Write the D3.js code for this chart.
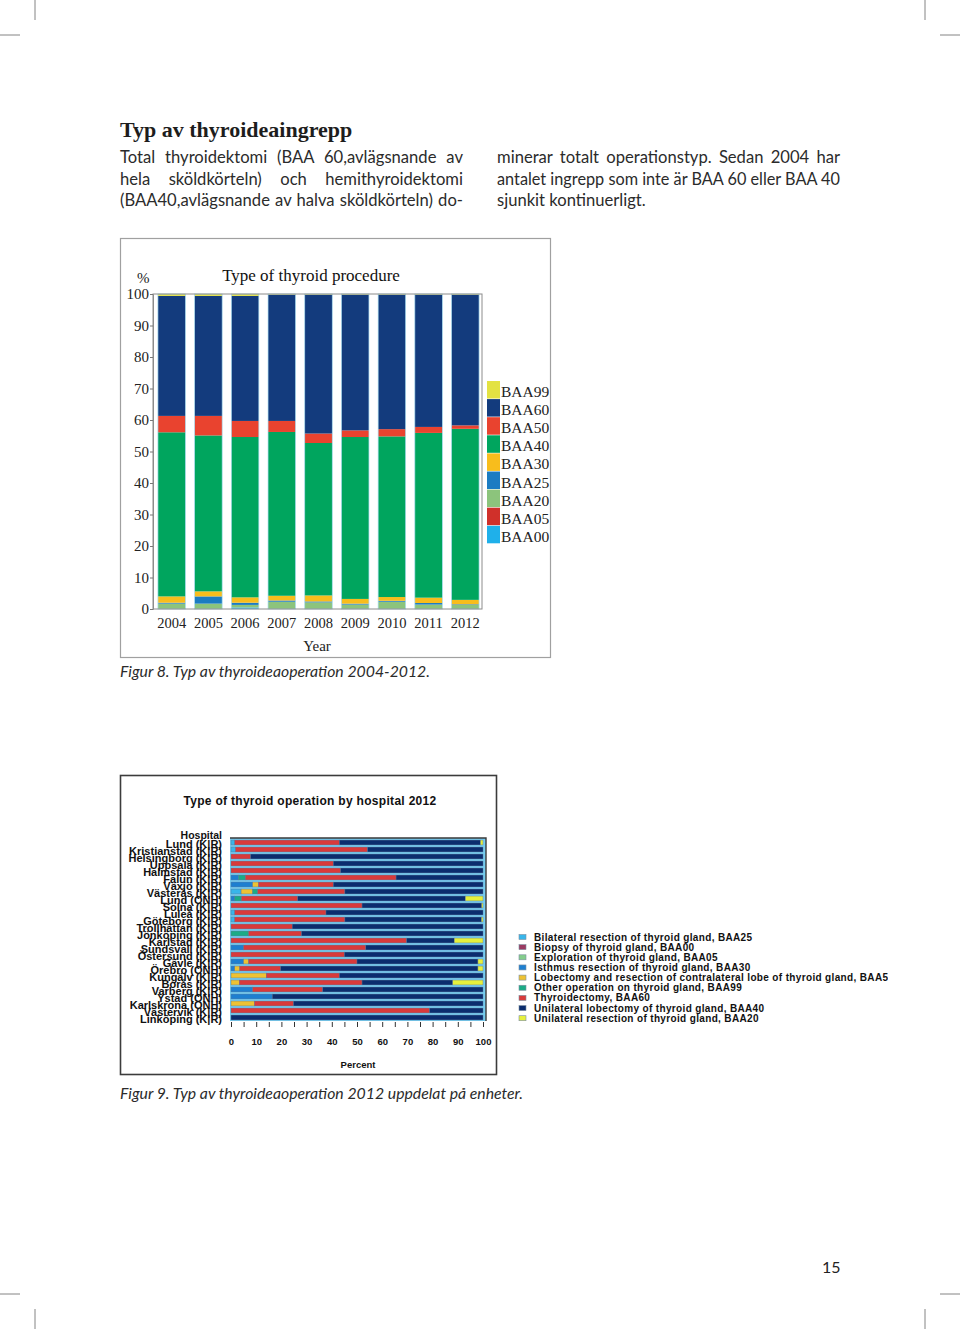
<!DOCTYPE html>
<html>
<head>
<meta charset="utf-8">
<script src="https://cdn.jsdelivr.net/npm/d3@7"></script>
<style>
body { margin: 0; background: #fff; }
svg { display: block; }
</style>
</head>
<body>
<svg id="page" width="960" height="1329"></svg>
<script>
// ---- figure 8 data (percent per year, bottom to top of the stack) ----
const years = ["2004", "2005", "2006", "2007", "2008", "2009", "2010", "2011", "2012"];
const procCodes = ["BAA00", "BAA05", "BAA20", "BAA25", "BAA30", "BAA40", "BAA50", "BAA60", "BAA99"];
const baa00 = [0, 0, 0.5, 0, 0, 0, 0, 0, 0];
const baa05 = [0, 0, 0, 0, 0, 0, 0, 0, 0];
const baa20 = [1.7, 1.7, 0.8, 2.3, 2.1, 1.4, 2.3, 1.4, 1.3];
const baa25 = [0.3, 2.3, 0.7, 0.4, 0.3, 0.3, 0.3, 0.5, 0.2];
const baa30 = [2.0, 1.6, 1.7, 1.5, 1.9, 1.5, 1.2, 1.7, 1.4];
const baa40 = [52.1, 49.5, 50.9, 52.0, 48.4, 51.4, 51.0, 52.3, 54.3];
const baa50 = [5.2, 6.2, 5.1, 3.5, 3.0, 2.1, 2.3, 1.9, 1.1];
const baa60 = [38.1, 38.1, 39.7, 40.1, 44.1, 43.1, 42.7, 42.0, 41.5];
const baa99 = [0.6, 0.6, 0.6, 0.2, 0.2, 0.2, 0.2, 0.2, 0.2];
const yTicks8 = [0, 10, 20, 30, 40, 50, 60, 70, 80, 90, 100];

// ---- figure 9 data (percent per hospital 2012) ----
const hospitals = ["Lund (K|R)", "Kristianstad (K|R)", "Helsingborg (K|R)", "Uppsala (K|R)", "Halmstad (K|R)",
  "Falun (K|R)", "Växjö (K|R)", "Västerås (K|R)", "Lund (ONH)", "Solna (K|R)", "Luleå (K|R)", "Göteborg (K|R)",
  "Trollhättan (K|R)", "Jönköping (K|R)", "Karlstad (K|R)", "Sundsvall (K|R)", "Östersund (K|R)", "Gävle (K|R)",
  "Örebro (ONH)", "Kungälv (K|R)", "Borås (K|R)", "Varberg (K|R)", "Ystad (ONH)", "Karlskrona (ONH)",
  "Västervik (K|R)", "Linköping (K|R)"];
const opCodes = ["BAA25", "BAA00", "BAA05", "BAA30", "BAA50", "BAA99", "BAA60", "BAA40", "BAA20"];
const opNames = ["Bilateral resection of thyroid gland, BAA25", "Biopsy of thyroid gland, BAA00",
  "Exploration of thyroid gland, BAA05", "Isthmus resection of thyroid gland, BAA30",
  "Lobectomy and resection of contralateral lobe of thyroid gland, BAA50",
  "Other operation on thyroid gland, BAA99", "Thyroidectomy, BAA60",
  "Unilateral lobectomy of thyroid gland, BAA40", "Unilateral resection of thyroid gland, BAA20"];
const h25 = [1.5, 1.8, 0, 0, 0, 0, 0, 4, 0, 0, 1.5, 1.5, 0, 0, 0, 0, 0, 0, 0, 0, 0, 0, 0, 0, 0, 0];
const h00 = [0, 0, 0, 0, 0, 0, 0, 0, 0, 0, 0, 0, 0, 0, 0, 0, 0, 0, 0, 0, 0, 0, 0, 0, 0, 0];
const h05 = [0, 0, 0, 0, 0, 0, 0, 0, 0, 0, 0, 0, 0, 0, 0, 0, 0, 0, 0, 0, 0, 0, 0, 0, 0, 0];
const h30 = [0, 0, 0, 0, 0, 3, 8.6, 0, 1.5, 0, 0, 0, 0, 0, 0, 5, 0, 5, 1.5, 0, 0, 8.6, 16.4, 0, 0, 0];
const h50 = [0, 0, 0, 0, 0, 0, 2.3, 4.6, 0, 0, 0, 0, 0, 0, 0, 0, 0, 2, 2, 14, 3.3, 0, 0, 9.3, 0, 0];
const h99 = [0, 0, 0, 0, 0, 2.7, 0, 2, 2.6, 0, 0, 0, 0, 7, 0, 0, 0, 0, 0, 0, 0, 0, 0, 0, 0, 0];
const h60 = [41.5, 52.4, 7.8, 40.6, 43.5, 59.8, 29.7, 34.6, 22.4, 52, 36.2, 43.7, 24.3, 21, 69.7, 48.5, 45, 43, 16.2, 29, 48.7, 27.8, 0, 15.5, 78.8, 0];
const h40 = [56, 45.8, 92.2, 59.4, 56.5, 34.5, 59.4, 54.8, 66.5, 47.5, 62.3, 54.2, 75.7, 72, 18.9, 46.5, 55, 48, 78.3, 57, 36, 63.6, 83.6, 75.2, 21.2, 100];
const h20 = [1, 0, 0, 0, 0, 0, 0, 0, 7, 0.5, 0, 0.6, 0, 0, 11.4, 0, 0, 2, 2, 0, 12, 0, 0, 0, 0, 0];
const xTicks9 = [0, 5, 10, 15, 20, 25, 30, 35, 40, 45, 50, 55, 60, 65, 70, 75, 80, 85, 90, 95, 100];

const procValues = { BAA00: baa00, BAA05: baa05, BAA20: baa20, BAA25: baa25, BAA30: baa30,
  BAA40: baa40, BAA50: baa50, BAA60: baa60, BAA99: baa99 };
const opValues = { BAA25: h25, BAA00: h00, BAA05: h05, BAA30: h30, BAA50: h50,
  BAA99: h99, BAA60: h60, BAA40: h40, BAA20: h20 };

const procColor = d3.scaleOrdinal().domain(procCodes)
  .range(["#1fb0ea", "#d0302a", "#8cc47c", "#1b7cc2", "#f8bd1c", "#00a55e", "#e9432f", "#133b7d", "#e3e242"]);
const opColor = d3.scaleOrdinal().domain(opCodes)
  .range(["#38b6ea", "#9a3b62", "#84cd8c", "#1e7fd0", "#eec232", "#1bab86", "#d83a3b", "#0b2d6e", "#e6f03c"]);

const svg = d3.select("#page");
svg.append("rect").attr("width", 960).attr("height", 1329).attr("fill", "#fff");

// crop marks
const marks = svg.append("g").attr("stroke", "#666").attr("stroke-width", 0.8);
[[35, 0, 35, 20], [0, 35, 20, 35], [925, 0, 925, 20], [940, 35, 960, 35],
 [35, 1309, 35, 1329], [0, 1294, 20, 1294], [925, 1309, 925, 1329], [940, 1294, 960, 1294]]
  .forEach(l => marks.append("line").attr("x1", l[0]).attr("y1", l[1]).attr("x2", l[2]).attr("y2", l[3]));

// ---- heading and text ----
svg.append("text").attr("x", 120).attr("y", 137)
  .attr("font-family", "Liberation Serif").attr("font-weight", "bold").attr("font-size", 22)
  .attr("fill", "#1d1d1d").text("Typ av thyroideaingrepp");

const bodyLines = [
  { x: 120, y: 163, w: 343, t: "Total thyroidektomi (BAA 60,avlägsnande av" },
  { x: 120, y: 185, w: 343, t: "hela sköldkörteln) och hemithyroidektomi" },
  { x: 120, y: 206, w: 343, t: "(BAA40,avlägsnande av halva sköldkörteln) do-" },
  { x: 497, y: 163, w: 343, t: "minerar totalt operationstyp. Sedan 2004 har" },
  { x: 497, y: 185, w: 343, t: "antalet ingrepp som inte är BAA 60 eller BAA 40" },
  { x: 497, y: 206, w: 0, t: "sjunkit kontinuerligt." }
];
bodyLines.forEach(l => {
  const t = svg.append("text").attr("x", l.x).attr("y", l.y)
    .attr("font-family", "Lato, 'Open Sans', sans-serif").attr("font-size", 16.6)
    .attr("fill", "#2b2b2b").text(l.t);
  if (!l.w) return;
  // justify: stretch the word gaps, squeeze only if the line is too long
  const natural = t.node().getComputedTextLength();
  const gaps = l.t.split(" ").length - 1;
  if (natural < l.w && gaps > 0) t.attr("word-spacing", (l.w - natural) / gaps);
  else t.attr("textLength", l.w).attr("lengthAdjust", "spacingAndGlyphs");
});

// ---- figure 8 ----
const f8 = svg.append("g");
f8.append("rect").attr("x", 120.5).attr("y", 238.5).attr("width", 430).attr("height", 419)
  .attr("fill", "#fff").attr("stroke", "#a0a0a0").attr("stroke-width", 1.2);

const x8 = d3.scaleBand().domain(years).range([155, 482]).paddingInner(0.25).paddingOuter(0.08);
const y8 = d3.scaleLinear().domain([0, 100]).range([609, 294]);

const rows8 = years.map((yr, i) => {
  const r = { year: yr };
  procCodes.forEach(c => r[c] = procValues[c][i]);
  return r;
});
const stack8 = d3.stack().keys(procCodes)(rows8);

f8.append("g").selectAll("g").data(stack8).join("g")
  .attr("fill", d => procColor(d.key))
  .selectAll("rect").data(d => d).join("rect")
  .attr("x", d => x8(d.data.year))
  .attr("width", x8.bandwidth())
  .attr("y", d => y8(d[1]))
  .attr("height", d => Math.max(0, y8(d[0]) - y8(d[1])));

// thin light outline round each bar
f8.append("g").selectAll("rect").data(rows8).join("rect")
  .attr("x", d => x8(d.year)).attr("width", x8.bandwidth())
  .attr("y", y8(100)).attr("height", y8(0) - y8(100))
  .attr("fill", "none").attr("stroke", "#a9dcef").attr("stroke-width", 0.7);

// frame
f8.append("rect").attr("x", 153).attr("y", y8(100)).attr("width", 482 - 153).attr("height", y8(0) - y8(100))
  .attr("fill", "none").attr("stroke", "#8c8c8c").attr("stroke-width", 1);

const ax8 = f8.append("g").attr("transform", "translate(153,0)")
  .call(d3.axisLeft(y8).tickValues(yTicks8).tickSize(3).tickPadding(1));
ax8.select(".domain").attr("stroke", "#8c8c8c");
ax8.selectAll(".tick line").attr("stroke", "#777");
ax8.selectAll("text").attr("font-family", "Liberation Serif").attr("font-size", 15).attr("fill", "#222");

const bx8 = f8.append("g").attr("transform", "translate(0,609)")
  .call(d3.axisBottom(x8).tickSize(0).tickPadding(9));
bx8.select(".domain").remove();
bx8.selectAll("text").attr("font-family", "Liberation Serif").attr("font-size", 14.5).attr("fill", "#222");

f8.append("text").attr("x", 311).attr("y", 281).attr("text-anchor", "middle")
  .attr("font-family", "Liberation Serif").attr("font-size", 17).attr("fill", "#111")
  .text("Type of thyroid procedure");
f8.append("text").attr("x", 137).attr("y", 283)
  .attr("font-family", "Liberation Serif").attr("font-size", 15).attr("fill", "#222").text("%");
f8.append("text").attr("x", 317).attr("y", 651).attr("text-anchor", "middle")
  .attr("font-family", "Liberation Serif").attr("font-size", 15).attr("fill", "#222").text("Year");

const legend8 = f8.append("g").selectAll("g").data(procCodes.slice().reverse()).join("g")
  .attr("transform", (d, i) => `translate(487,${381 + i * 18.1})`);
legend8.append("rect").attr("width", 13).attr("height", 17.5).attr("fill", d => procColor(d));
legend8.append("text").attr("x", 14).attr("y", 16)
  .attr("font-family", "Liberation Serif").attr("font-size", 15.5).attr("fill", "#222").text(d => d);

svg.append("text").attr("x", 120).attr("y", 677)
  .attr("font-family", "Lato, 'Open Sans', sans-serif").attr("font-style", "italic").attr("font-size", 15.8)
  .attr("fill", "#2b2b2b").text("Figur 8. Typ av thyroideaoperation 2004-2012.");

// ---- figure 9 ----
const f9 = svg.append("g");
f9.append("rect").attr("x", 120.5).attr("y", 775.5).attr("width", 376).attr("height", 299)
  .attr("fill", "#fff").attr("stroke", "#3c3c3c").attr("stroke-width", 1.6);

const x9 = d3.scaleLinear().domain([0, 100]).range([231, 483]);
const y9 = d3.scaleBand().domain(hospitals).range([839, 1021]).paddingInner(0.3).paddingOuter(0.15);

f9.append("rect").attr("x", 230).attr("y", 838).attr("width", 486 - 230).attr("height", 1021 - 838)
  .attr("fill", "#76cdf1");

const rows9 = hospitals.map((h, i) => {
  const r = { hospital: h };
  opCodes.forEach(c => r[c] = opValues[c][i]);
  return r;
});
const stack9 = d3.stack().keys(opCodes)(rows9);

f9.append("g").selectAll("g").data(stack9).join("g")
  .attr("fill", d => opColor(d.key))
  .selectAll("rect").data(d => d.filter(s => s[1] > s[0])).join("rect")
  .attr("x", d => x9(d[0]))
  .attr("width", d => x9(d[1]) - x9(d[0]))
  .attr("y", d => y9(d.data.hospital))
  .attr("height", y9.bandwidth())
  .attr("stroke", "#5f7290").attr("stroke-width", 0.4);

// plot border (top and right)
f9.append("path").attr("d", "M230,838H486V1021").attr("fill", "none")
  .attr("stroke", "#3a3a3a").attr("stroke-width", 1.4);

const ax9 = f9.append("g").attr("transform", "translate(230,0)")
  .call(d3.axisLeft(y9).tickSize(0).tickPadding(8));
ax9.select(".domain").remove();
ax9.selectAll("text").attr("font-family", "Liberation Sans, Arial, sans-serif").attr("font-weight", "bold")
  .attr("font-size", 11).attr("fill", "#111").attr("dy", "0.5em");

const bx9 = f9.append("g").attr("transform", "translate(0,1022)")
  .call(d3.axisBottom(x9).tickValues(xTicks9).tickSize(5).tickPadding(11)
    .tickFormat(d => d % 10 === 0 ? d : ""));
bx9.select(".domain").remove();
bx9.selectAll(".tick line").attr("stroke", "#333");
bx9.selectAll("text").attr("font-family", "Liberation Sans, Arial, sans-serif").attr("font-weight", "bold")
  .attr("font-size", 9.5).attr("fill", "#111");

const boldSans = sel => sel.attr("font-family", "Liberation Sans, Arial, sans-serif").attr("font-weight", "bold").attr("fill", "#111");
f9.append("text").attr("x", 310).attr("y", 805).attr("text-anchor", "middle")
  .attr("font-size", 12).attr("letter-spacing", 0.3).call(boldSans)
  .text("Type of thyroid operation by hospital 2012");
f9.append("text").attr("x", 222).attr("y", 839).attr("text-anchor", "end")
  .attr("font-size", 10.5).call(boldSans).text("Hospital");
f9.append("text").attr("x", 358).attr("y", 1068).attr("text-anchor", "middle")
  .attr("font-size", 9.5).call(boldSans).text("Percent");

// legend for figure 9, clipped at the right like the original
svg.append("clipPath").attr("id", "legclip").append("rect")
  .attr("x", 500).attr("y", 920).attr("width", 388).attr("height", 120);
const legend9 = svg.append("g").attr("clip-path", "url(#legclip)")
  .selectAll("g").data(opCodes).join("g")
  .attr("transform", (d, i) => `translate(519,${932.5 + i * 10.15})`);
legend9.append("rect").attr("width", 7).attr("height", 5).attr("y", 2)
  .attr("fill", d => opColor(d)).attr("stroke", "#7c8fa0").attr("stroke-width", 0.6);
legend9.append("text").attr("x", 15).attr("y", 8)
  .attr("font-size", 10).attr("letter-spacing", 0.35).call(boldSans).text((d, i) => opNames[i]);

svg.append("text").attr("x", 120).attr("y", 1099)
  .attr("font-family", "Lato, 'Open Sans', sans-serif").attr("font-style", "italic").attr("font-size", 15.8)
  .attr("fill", "#2b2b2b").text("Figur 9. Typ av thyroideaoperation 2012 uppdelat på enheter.");

svg.append("text").attr("x", 822).attr("y", 1273)
  .attr("font-family", "Lato, 'Open Sans', sans-serif").attr("font-size", 16)
  .attr("fill", "#222").text("15");
</script>
</body>
</html>
